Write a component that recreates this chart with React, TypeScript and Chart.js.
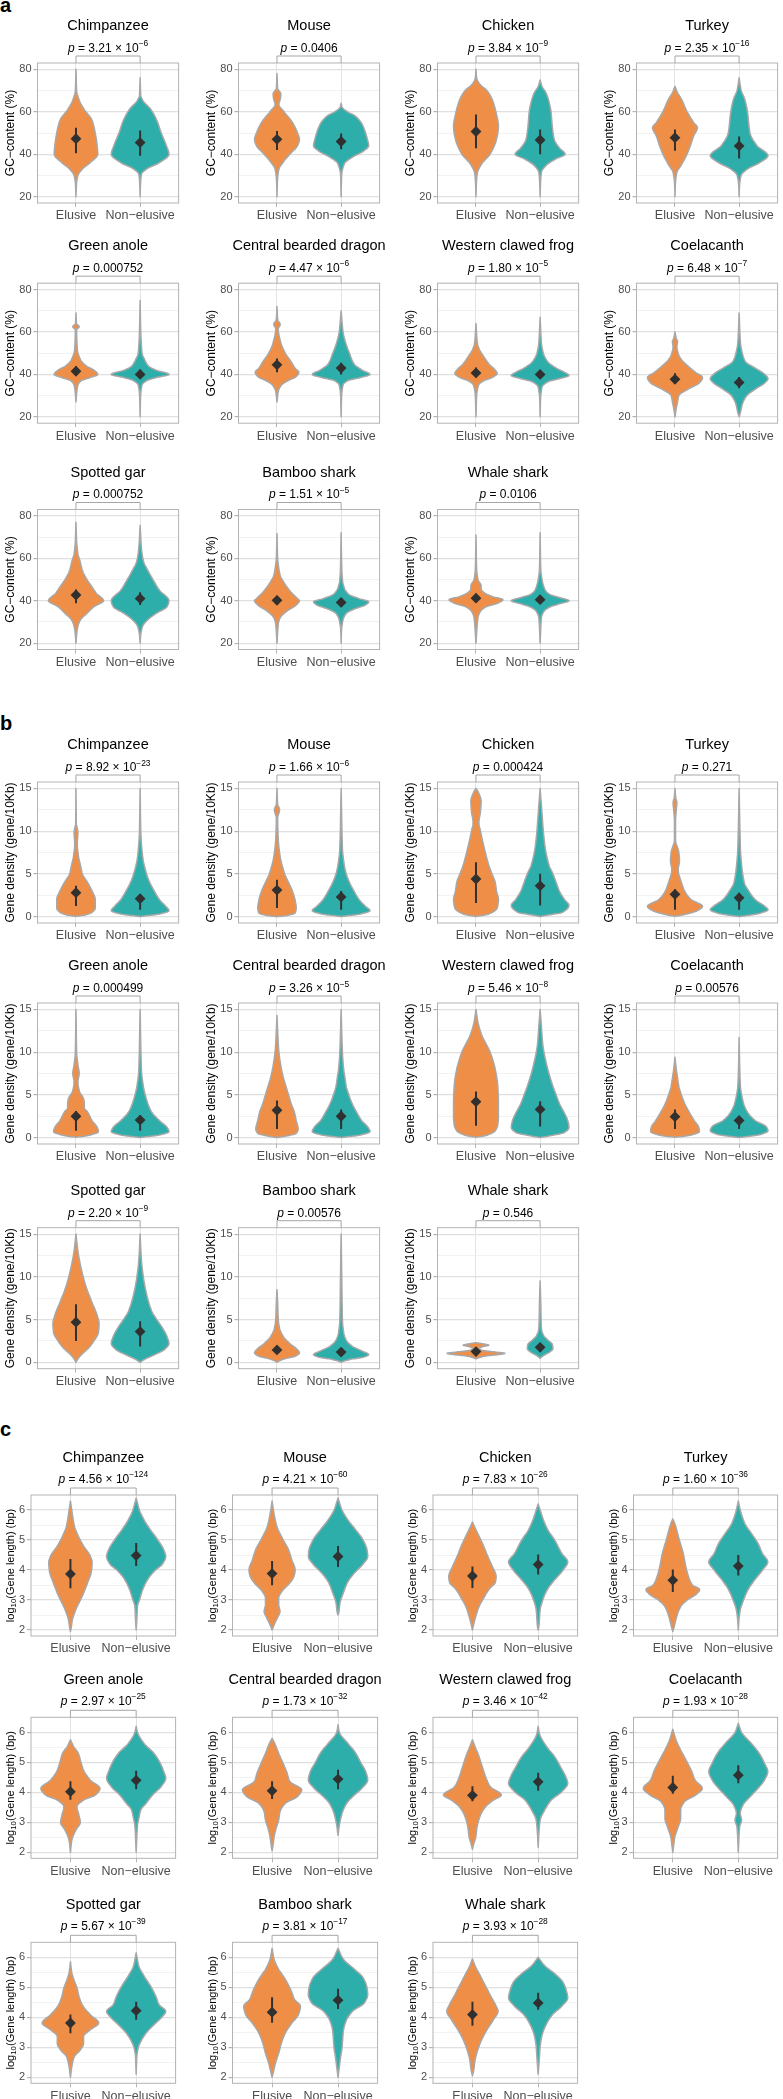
import React, { useEffect, useRef } from 'react';
import { Chart, registerables } from 'chart.js';

Chart.register(...registerables);

const FONT = "'Liberation Sans', Arial, Helvetica, sans-serif";
const ORANGE = '#EF8F47';
const TEAL = '#2EAEAB';
const OUTLINE = '#A8A8A8';
const DARK = '#303030';

const species = ['Chimpanzee', 'Mouse', 'Chicken', 'Turkey', 'Green anole', 'Central bearded dragon', 'Western clawed frog', 'Coelacanth', 'Spotted gar', 'Bamboo shark', 'Whale shark'];
const groups = ['Elusive', 'Non\u2212elusive'];

// ---------- Panel a: GC-content ----------
const gcTicks = [20, 30, 40, 50, 60, 70, 80];
const gcP = ['3.21e-6', '0.0406', '3.84e-9', '2.35e-16', '0.000752', '4.47e-6', '1.80e-5', '6.48e-7', '0.000752', '1.51e-5', '0.0106'];
const gcMean = [[47.3, 45.5], [47, 46], [50.7, 46.7], [47.8, 43.9], [41.5, 40], [44.5, 43], [40.7, 40], [37.7, 36.2], [42.7, 41], [40.2, 39.2], [41.2, 40.5]];
const gcLow = [[40.5, 39.3], [42, 42.3], [42.8, 40], [41.6, 38], [39.5, 38], [41, 40], [38.5, 38], [35.5, 33.5], [38.8, 38], [38.2, 37], [39.5, 39]];
const gcHigh = [[52.5, 51.2], [51, 49.8], [58.7, 51.7], [51.7, 48.3], [43.8, 42.3], [47.5, 45.5], [43.3, 42], [40.5, 38.8], [45.3, 44], [42.3, 41.3], [43, 42.5]];
const gcElusive = [
  [[80, 0], [70, 0.01], [65.5, 0.05], [61, 0.13], [56, 0.25], [50, 0.3], [44, 0.33], [40, 0.34], [36, 0.22], [33, 0.1], [30, 0.03], [26, 0.008], [20, 0]],
  [[78, 0], [71, 0.01], [68.5, 0.06], [66.5, 0.055], [63.5, 0.03], [60, 0.11], [55, 0.24], [50, 0.32], [47, 0.35], [44, 0.32], [40, 0.2], [36, 0.09], [33, 0.03], [28, 0.008], [20, 0]],
  [[80, 0], [76, 0.01], [73, 0.06], [70, 0.17], [66, 0.25], [60, 0.31], [53, 0.35], [47, 0.32], [40, 0.22], [35.5, 0.09], [31, 0.02], [26, 0.006], [20, 0]],
  [[72, 0], [69, 0.04], [66, 0.1], [60, 0.19], [55, 0.29], [52.5, 0.35], [48.5, 0.29], [44, 0.24], [39.5, 0.18], [34.5, 0.09], [31.5, 0.03], [26, 0.006], [20, 0]],
  [[69, 0], [64, 0.008], [62.5, 0.05], [61, 0.01], [52, 0.02], [47, 0.07], [44, 0.16], [42, 0.28], [40, 0.34], [38.5, 0.22], [37, 0.08], [35, 0.03], [31, 0.01], [27, 0]],
  [[72, 0], [66, 0.01], [63.5, 0.05], [61.5, 0.02], [55, 0.06], [50, 0.13], [46, 0.22], [43, 0.28], [41, 0.34], [39, 0.3], [37, 0.17], [35, 0.07], [32, 0.02], [27, 0]],
  [[64, 0], [55, 0.02], [52, 0.05], [48, 0.13], [45, 0.2], [42, 0.3], [40.5, 0.33], [38.5, 0.25], [37, 0.12], [35, 0.04], [30, 0.01], [20, 0]],
  [[60, 0], [57, 0.02], [55.5, 0.04], [53, 0.03], [50, 0.05], [47, 0.1], [44, 0.2], [41, 0.32], [38.5, 0.43], [36, 0.38], [33, 0.2], [30, 0.06], [27, 0.04], [24, 0.02], [20, 0]],
  [[77, 0], [68, 0.01], [62, 0.03], [59, 0.06], [54.3, 0.1], [50, 0.17], [46.5, 0.25], [43.4, 0.32], [40, 0.43], [37.2, 0.28], [34, 0.17], [31, 0.07], [28, 0.03], [24, 0.01], [20, 0]],
  [[71.7, 0], [60, 0.01], [55, 0.03], [52, 0.05], [48, 0.12], [44, 0.22], [41, 0.32], [40, 0.35], [38, 0.3], [35, 0.15], [32, 0.05], [29, 0.02], [20, 0]],
  [[71, 0], [55, 0.01], [50, 0.03], [47, 0.08], [45.5, 0.08], [44, 0.12], [42, 0.25], [40.5, 0.42], [39, 0.35], [37, 0.15], [35, 0.07], [32, 0.03], [20, 0]],
];
const gcNonElusive = [
  [[76, 0], [68, 0.01], [65.5, 0.04], [61, 0.17], [56, 0.26], [50, 0.33], [44, 0.41], [40, 0.45], [36, 0.3], [33, 0.1], [30.5, 0.02], [26, 0.006], [20, 0]],
  [[64, 0], [62, 0.02], [60, 0.1], [58, 0.22], [54, 0.33], [47, 0.41], [44, 0.43], [41.5, 0.35], [38.5, 0.17], [35.5, 0.05], [30, 0.008], [20, 0]],
  [[75, 0], [72, 0.03], [69, 0.09], [65.7, 0.13], [60, 0.17], [53, 0.19], [47, 0.22], [43, 0.3], [40, 0.39], [37.7, 0.24], [34.6, 0.09], [31.5, 0.02], [26, 0.006], [20, 0]],
  [[76, 0], [70.4, 0.03], [65.7, 0.09], [60, 0.13], [50, 0.17], [44, 0.28], [39.3, 0.45], [36, 0.32], [33, 0.13], [30, 0.03], [25, 0.006], [20, 0]],
  [[75, 0], [60, 0.01], [50, 0.03], [47, 0.07], [44, 0.13], [42, 0.25], [40, 0.45], [38.5, 0.25], [37, 0.1], [35, 0.03], [30, 0.008], [20, 0]],
  [[70, 0], [60, 0.03], [55, 0.07], [50, 0.13], [45, 0.2], [42, 0.33], [40, 0.45], [38.5, 0.3], [37, 0.1], [35, 0.03], [30, 0.008], [20, 0]],
  [[67, 0], [55, 0.02], [50, 0.05], [46, 0.12], [43, 0.25], [41, 0.38], [39.5, 0.45], [38, 0.3], [36.5, 0.12], [34, 0.03], [28, 0.006], [20, 0]],
  [[69, 0], [55, 0.02], [50, 0.05], [46, 0.1], [43, 0.25], [40, 0.4], [38, 0.45], [36, 0.4], [33, 0.25], [30, 0.12], [26, 0.05], [22, 0.02], [20, 0]],
  [[75.6, 0], [65, 0.02], [58.9, 0.05], [54.3, 0.12], [50, 0.2], [45, 0.3], [40, 0.45], [37.2, 0.42], [34, 0.25], [31, 0.12], [28, 0.04], [24, 0.01], [20, 0]],
  [[72, 0], [55, 0.01], [50, 0.02], [46, 0.05], [43, 0.12], [41, 0.28], [39.5, 0.43], [38, 0.38], [36, 0.2], [34, 0.08], [31, 0.03], [26, 0.006], [20, 0]],
  [[72, 0], [55, 0.01], [50, 0.03], [45, 0.08], [43, 0.15], [41.5, 0.3], [40, 0.45], [38.5, 0.3], [37, 0.15], [35, 0.06], [32, 0.02], [20, 0]],
];

// ---------- Panel b: gene density ----------
const denTicks = [0, 2.5, 5, 7.5, 10, 12.5, 15];
const denP = ['8.92e-23', '1.66e-6', '0.000424', '0.271', '0.000499', '3.26e-5', '5.46e-8', '0.00576', '2.20e-9', '0.00576', '0.546'];
const denMean = [[2.8, 2.1], [3.1, 2.3], [4.4, 3.6], [2.6, 2.2], [2.5, 2.05], [3.2, 2.5], [4.2, 3.3], [2.45, 2.0], [4.7, 3.6], [1.45, 1.2], [1.25, 1.75]];
const denLow = [[1.25, 0.8], [1.0, 0.8], [1.6, 1.3], [0.8, 0.8], [0.8, 0.8], [1.0, 1.0], [1.4, 1.3], [1.0, 1.0], [2.5, 1.85], [1.1, 0.9], [1.0, 1.2]];
const denHigh = [[3.6, 2.6], [4.3, 3.0], [6.35, 5.0], [3.2, 2.8], [3.1, 2.6], [4.35, 3.3], [5.4, 4.25], [3.3, 2.4], [6.8, 4.8], [1.9, 1.5], [1.6, 2.2]];
const denElusive = [
  [[15, 0], [11, 0.005], [9.8, 0.03], [8.5, 0.02], [7, 0.04], [6, 0.07], [5, 0.1], [4, 0.18], [3, 0.25], [2, 0.3], [1, 0.3], [0.5, 0.25], [0.2, 0.15], [0.03, 0]],
  [[15, 0], [13.2, 0.01], [12.5, 0.04], [11.5, 0.01], [9, 0.02], [7, 0.05], [5, 0.12], [4, 0.18], [3, 0.24], [2, 0.28], [1, 0.3], [0.4, 0.28], [0.12, 0.15], [0, 0]],
  [[15, 0], [14.5, 0.04], [13.5, 0.08], [12.3, 0.07], [11, 0.045], [10, 0.07], [8, 0.13], [6, 0.2], [5, 0.25], [4, 0.3], [3, 0.32], [2, 0.35], [1, 0.33], [0.3, 0.2], [0, 0]],
  [[15, 0], [14, 0.01], [13.3, 0.03], [12.5, 0.02], [11, 0.008], [9, 0.008], [7.5, 0.06], [6.5, 0.07], [5.5, 0.05], [4, 0.1], [3, 0.15], [2, 0.25], [1.2, 0.43], [0.7, 0.35], [0.3, 0.18], [0.03, 0]],
  [[15, 0], [10, 0.01], [8.5, 0.03], [7.5, 0.05], [6.5, 0.03], [5.5, 0.05], [4.5, 0.12], [4, 0.13], [3.5, 0.13], [3, 0.18], [2, 0.25], [1.2, 0.33], [0.7, 0.35], [0.3, 0.22], [0.03, 0]],
  [[14.3, 0], [11, 0.02], [10, 0.03], [8, 0.07], [7, 0.1], [6, 0.14], [5, 0.18], [4, 0.22], [3, 0.27], [2, 0.3], [1, 0.33], [0.5, 0.3], [0.15, 0.12], [0, 0]],
  [[15, 0], [13.5, 0.03], [12, 0.09], [10, 0.22], [8, 0.3], [6, 0.34], [4, 0.35], [2.5, 0.35], [1.5, 0.34], [0.8, 0.3], [0.3, 0.18], [0.03, 0]],
  [[9.4, 0], [8, 0.02], [7, 0.04], [6, 0.06], [5, 0.1], [4, 0.15], [3, 0.22], [2, 0.3], [1.2, 0.37], [0.7, 0.38], [0.3, 0.25], [0.03, 0]],
  [[15, 0], [13, 0.03], [11, 0.08], [9, 0.15], [7, 0.25], [5.5, 0.33], [4.5, 0.36], [3.5, 0.35], [2.5, 0.28], [1.7, 0.2], [1, 0.1], [0.4, 0.03], [0, 0]],
  [[8.5, 0], [7, 0.01], [5, 0.02], [4, 0.04], [3, 0.1], [2.2, 0.2], [1.6, 0.3], [1.1, 0.35], [0.7, 0.28], [0.4, 0.12], [0.1, 0.02], [0, 0]],
  [[2.3, 0], [2.15, 0.12], [2.0, 0.2], [1.85, 0.12], [1.65, 0.05], [1.4, 0.1], [1.2, 0.3], [1.05, 0.45], [0.9, 0.35], [0.7, 0.12], [0.5, 0.03], [0.4, 0]],
];
const denNonElusive = [
  [[15, 0], [10, 0.01], [7, 0.04], [5, 0.1], [4, 0.15], [3, 0.22], [2, 0.3], [1.2, 0.4], [0.7, 0.45], [0.3, 0.3], [0.1, 0.1], [0, 0]],
  [[15, 0], [8, 0.02], [6, 0.05], [5, 0.08], [4, 0.13], [3, 0.2], [2, 0.28], [1.2, 0.38], [0.7, 0.45], [0.3, 0.3], [0.1, 0.1], [0, 0]],
  [[15, 0], [12, 0.03], [10, 0.05], [8, 0.08], [6, 0.14], [5, 0.2], [4, 0.25], [3, 0.3], [2, 0.38], [1.3, 0.45], [0.5, 0.35], [0.15, 0.1], [0, 0]],
  [[15, 0], [8, 0.02], [6, 0.04], [4, 0.08], [3, 0.15], [2, 0.25], [1.2, 0.4], [0.8, 0.45], [0.4, 0.33], [0.1, 0.1], [0, 0]],
  [[15, 0], [8, 0.02], [6, 0.05], [5, 0.08], [4, 0.12], [3, 0.18], [2, 0.3], [1.2, 0.42], [0.7, 0.45], [0.3, 0.3], [0.1, 0.1], [0, 0]],
  [[15, 0], [10, 0.02], [8, 0.04], [7, 0.06], [6, 0.08], [5, 0.12], [4, 0.17], [3, 0.24], [2, 0.32], [1.2, 0.42], [0.7, 0.45], [0.3, 0.3], [0.1, 0.1], [0, 0]],
  [[15, 0], [13, 0.02], [11, 0.04], [10, 0.06], [8, 0.12], [6, 0.2], [5, 0.25], [4, 0.3], [3, 0.37], [2, 0.43], [1.2, 0.45], [0.6, 0.38], [0.2, 0.15], [0, 0]],
  [[11.7, 0], [8, 0.01], [6, 0.02], [5, 0.04], [4, 0.07], [3, 0.13], [2, 0.25], [1.3, 0.42], [0.8, 0.45], [0.4, 0.35], [0.1, 0.1], [0, 0]],
  [[15, 0], [12, 0.02], [10, 0.05], [8, 0.1], [6, 0.18], [5, 0.26], [4, 0.35], [3, 0.42], [2.2, 0.45], [1.5, 0.38], [0.8, 0.2], [0.3, 0.06], [0, 0]],
  [[15, 0], [10, 0.01], [5, 0.02], [3.5, 0.04], [2.6, 0.08], [1.9, 0.17], [1.3, 0.33], [0.9, 0.43], [0.6, 0.35], [0.35, 0.15], [0.1, 0.03], [0, 0]],
  [[9.5, 0], [7, 0.01], [5, 0.015], [4, 0.02], [3.2, 0.05], [2.6, 0.12], [2.1, 0.19], [1.6, 0.2], [1.2, 0.15], [0.9, 0.08], [0.6, 0.02], [0.45, 0]],
];

// ---------- Panel c: log10 gene length ----------
const lenTicks = [2, 2.5, 3, 3.5, 4, 4.5, 5, 5.5, 6];
const lenP = ['4.56e-124', '4.21e-60', '7.83e-26', '1.60e-36', '2.97e-25', '1.73e-32', '3.46e-42', '1.93e-28', '5.67e-39', '3.81e-17', '3.93e-28'];
const lenMean = [[3.87, 4.48], [3.88, 4.45], [3.8, 4.18], [3.66, 4.13], [4.02, 4.4], [4.05, 4.44], [3.9, 4.35], [4.16, 4.57], [3.81, 4.22], [4.17, 4.57], [4.09, 4.48]];
const lenLow = [[3.39, 4.13], [3.49, 4.1], [3.4, 3.85], [3.27, 3.82], [3.75, 4.1], [3.78, 4.1], [3.7, 4.05], [3.95, 4.3], [3.47, 3.92], [3.82, 4.28], [3.72, 4.25]];
const lenHigh = [[4.37, 4.9], [4.3, 4.8], [4.12, 4.52], [4.02, 4.5], [4.37, 4.72], [4.37, 4.75], [4.2, 4.65], [4.55, 4.9], [4.09, 4.52], [4.67, 4.95], [4.52, 4.82]];
const lenElusive = [
  [[6.3, 0], [6, 0.02], [5.47, 0.06], [5.13, 0.12], [4.8, 0.2], [4.47, 0.3], [4.25, 0.33], [3.97, 0.32], [3.57, 0.26], [3.23, 0.2], [2.95, 0.14], [2.67, 0.08], [2.34, 0.03], [2.05, 0.01], [1.95, 0]],
  [[6.3, 0], [6, 0.02], [5.47, 0.07], [5, 0.17], [4.67, 0.25], [4.33, 0.3], [4.0, 0.35], [3.78, 0.33], [3.57, 0.27], [3.29, 0.15], [3.06, 0.1], [2.85, 0.1], [2.62, 0.12], [2.4, 0.08], [2.17, 0.03], [2.0, 0]],
  [[5.6, 0], [5.45, 0.03], [5.13, 0.1], [4.8, 0.17], [4.47, 0.23], [4.13, 0.3], [3.78, 0.36], [3.6, 0.35], [3.35, 0.25], [3.06, 0.17], [2.78, 0.1], [2.45, 0.05], [2.1, 0.01], [2.0, 0]],
  [[5.7, 0], [5.55, 0.03], [5.0, 0.1], [4.55, 0.16], [4.1, 0.2], [3.78, 0.24], [3.5, 0.3], [3.35, 0.41], [3.18, 0.35], [3.0, 0.22], [2.78, 0.12], [2.45, 0.06], [2.1, 0.02], [1.95, 0]],
  [[5.75, 0], [5.52, 0.05], [5.3, 0.12], [5.0, 0.16], [4.74, 0.2], [4.41, 0.3], [4.13, 0.45], [3.91, 0.38], [3.74, 0.2], [3.52, 0.1], [3.23, 0.13], [3.0, 0.15], [2.73, 0.08], [2.39, 0.02], [2.0, 0]],
  [[5.8, 0], [5.63, 0.04], [5.3, 0.1], [5.0, 0.16], [4.69, 0.22], [4.36, 0.27], [4.08, 0.45], [3.85, 0.38], [3.63, 0.2], [3.35, 0.12], [3.07, 0.1], [2.79, 0.06], [2.5, 0.03], [2.17, 0.01], [2.05, 0]],
  [[5.75, 0], [5.52, 0.04], [5.19, 0.1], [4.85, 0.15], [4.52, 0.2], [4.19, 0.27], [3.91, 0.44], [3.74, 0.32], [3.52, 0.2], [3.23, 0.12], [2.84, 0.07], [2.5, 0.05], [2.28, 0.02], [2.1, 0]],
  [[6.1, 0], [5.74, 0.05], [5.41, 0.12], [5.08, 0.2], [4.74, 0.28], [4.41, 0.34], [4.13, 0.45], [3.91, 0.35], [3.69, 0.18], [3.41, 0.12], [3.13, 0.12], [2.84, 0.08], [2.5, 0.03], [2.17, 0.01], [2.0, 0]],
  [[5.85, 0], [5.5, 0.02], [5.27, 0.05], [4.98, 0.1], [4.7, 0.13], [4.42, 0.18], [4.09, 0.3], [3.81, 0.43], [3.58, 0.3], [3.36, 0.2], [3.13, 0.2], [2.91, 0.15], [2.69, 0.06], [2.35, 0.02], [2.0, 0]],
  [[6.3, 0], [5.94, 0.03], [5.6, 0.1], [5.27, 0.2], [4.93, 0.28], [4.6, 0.34], [4.37, 0.43], [4.09, 0.4], [3.81, 0.3], [3.47, 0.2], [3.13, 0.14], [2.8, 0.1], [2.46, 0.05], [2.18, 0.02], [2.0, 0]],
  [[5.95, 0], [5.72, 0.04], [5.38, 0.12], [5.04, 0.2], [4.7, 0.28], [4.42, 0.35], [4.2, 0.39], [3.92, 0.32], [3.58, 0.22], [3.25, 0.14], [2.91, 0.08], [2.57, 0.04], [2.24, 0.02], [2.05, 0]],
];
const lenNonElusive = [
  [[6.4, 0], [6, 0.05], [5.67, 0.12], [5.33, 0.22], [5, 0.33], [4.67, 0.42], [4.45, 0.45], [4.2, 0.4], [3.97, 0.28], [3.7, 0.18], [3.35, 0.1], [3.0, 0.05], [2.8, 0.02], [2.34, 0.01], [2.0, 0]],
  [[6.4, 0], [6, 0.06], [5.67, 0.15], [5.33, 0.27], [5, 0.38], [4.67, 0.44], [4.45, 0.45], [4.2, 0.38], [3.88, 0.24], [3.57, 0.14], [3.23, 0.08], [2.9, 0.03], [2.56, 0.01], [2.5, 0]],
  [[6.2, 0], [6, 0.03], [5.67, 0.08], [5.33, 0.15], [5, 0.25], [4.55, 0.36], [4.27, 0.45], [4.0, 0.38], [3.67, 0.25], [3.35, 0.14], [3.0, 0.07], [2.67, 0.03], [2.1, 0.01], [2.0, 0]],
  [[6.3, 0], [6, 0.03], [5.55, 0.1], [5.22, 0.2], [4.89, 0.3], [4.55, 0.37], [4.27, 0.45], [4.0, 0.37], [3.67, 0.25], [3.35, 0.15], [3.0, 0.08], [2.67, 0.03], [2.34, 0.01], [2.0, 0]],
  [[6.2, 0], [6, 0.02], [5.63, 0.12], [5.3, 0.27], [5, 0.36], [4.69, 0.42], [4.47, 0.45], [4.19, 0.38], [3.91, 0.25], [3.63, 0.15], [3.41, 0.07], [3.12, 0.04], [2.9, 0.02], [2.0, 0]],
  [[6.25, 0], [6, 0.02], [5.63, 0.15], [5.3, 0.27], [4.97, 0.35], [4.69, 0.42], [4.41, 0.45], [4.13, 0.36], [3.85, 0.22], [3.63, 0.13], [3.29, 0.06], [2.9, 0.02], [2.56, 0]],
  [[6.2, 0], [5.95, 0.02], [5.52, 0.13], [5.19, 0.25], [4.85, 0.34], [4.52, 0.42], [4.3, 0.45], [4.02, 0.36], [3.74, 0.2], [3.41, 0.1], [3.07, 0.03], [2.6, 0.01], [2.17, 0]],
  [[6.3, 0], [6, 0.05], [5.63, 0.2], [5.3, 0.32], [4.97, 0.4], [4.69, 0.45], [4.41, 0.4], [4.13, 0.3], [3.85, 0.18], [3.57, 0.07], [3.3, 0.03], [3.07, 0.05], [2.84, 0.02], [2.0, 0]],
  [[6.15, 0], [5.72, 0.04], [5.38, 0.12], [5.04, 0.22], [4.7, 0.3], [4.42, 0.35], [4.2, 0.45], [3.98, 0.38], [3.75, 0.27], [3.47, 0.15], [3.19, 0.07], [2.97, 0.03], [2.69, 0.01], [2.1, 0]],
  [[6.3, 0], [5.94, 0.08], [5.6, 0.25], [5.32, 0.38], [4.98, 0.44], [4.76, 0.45], [4.48, 0.4], [4.2, 0.22], [3.87, 0.12], [3.53, 0.08], [3.25, 0.07], [2.97, 0.06], [2.69, 0.04], [2.35, 0.02], [2.0, 0]],
  [[6.0, 0], [5.72, 0.1], [5.44, 0.26], [5.16, 0.38], [4.88, 0.43], [4.65, 0.45], [4.37, 0.36], [4.09, 0.22], [3.75, 0.12], [3.41, 0.06], [3.02, 0.03], [2.69, 0.02], [2.24, 0.005], [2.1, 0]],
];

// ---------- layout of the three panels ----------
type Seg = { t: string; sub?: boolean };
type Panel = {
  key: string; letter: string; letterTop: number; yTitle: Seg[]; yTitleSize: number;
  yMin: number; yMax: number; ticks: number[]; majorStep: number;
  pVals: string[]; mean: number[][]; low: number[][]; high: number[][];
  elusive: number[][][]; non: number[][][];
  rowTops: number[]; plotH: number; boxLefts: number[]; boxW: number; axisW: number; titleGap: number; pOffset: number;
};

const panels: Panel[] = [
  {
    key: 'a', letter: 'a', letterTop: -5, yTitle: [{ t: 'GC\u2212content (%)' }], yTitleSize: 12,
    yMin: 17, yMax: 83, ticks: gcTicks, majorStep: 20,
    pVals: gcP, mean: gcMean, low: gcLow, high: gcHigh, elusive: gcElusive, non: gcNonElusive,
    rowTops: [63, 283.2, 509.5], plotH: 140, boxLefts: [37.5, 238.5, 437.5, 636.5], boxW: 145, axisW: 37.5, titleGap: 27, pOffset: 14.5,
  },
  {
    key: 'b', letter: 'b', letterTop: 713, yTitle: [{ t: 'Gene density (gene/10Kb)' }], yTitleSize: 12,
    yMin: -0.75, yMax: 15.75, ticks: denTicks, majorStep: 5,
    pVals: denP, mean: denMean, low: denLow, high: denHigh, elusive: denElusive, non: denNonElusive,
    rowTops: [782, 1003, 1227.7], plotH: 141, boxLefts: [37.5, 238.5, 437.5, 636.5], boxW: 145, axisW: 37.5, titleGap: 27, pOffset: 14,
  },
  {
    key: 'c', letter: 'c', letterTop: 1419, yTitle: [{ t: 'log' }, { t: '10', sub: true }, { t: '(Gene length) (bp)' }], yTitleSize: 11,
    yMin: 1.8, yMax: 6.5, ticks: lenTicks, majorStep: 1,
    pVals: lenP, mean: lenMean, low: lenLow, high: lenHigh, elusive: lenElusive, non: lenNonElusive,
    rowTops: [1495, 1717.3, 1942.3], plotH: 141, boxLefts: [31, 232.5, 433, 633.5], boxW: 149, axisW: 31, titleGap: 20, pOffset: 15.5,
  },
];

// monotone cubic sampling of a violin half-width profile
function sampleProfile(knots: number[][]): number[][] {
  const p = [...knots].sort((a, b) => a[0] - b[0]);
  const n = p.length;
  const xs = p.map((k) => k[0]);
  const ys = p.map((k) => k[1]);
  const d: number[] = [];
  for (let i = 0; i < n - 1; i++) d.push((ys[i + 1] - ys[i]) / (xs[i + 1] - xs[i]));
  const m: number[] = new Array(n).fill(0);
  m[0] = d[0];
  m[n - 1] = d[n - 2];
  for (let i = 1; i < n - 1; i++) m[i] = d[i - 1] * d[i] <= 0 ? 0 : 2 / (1 / d[i - 1] + 1 / d[i]);
  const out: number[][] = [];
  for (let i = 0; i < n - 1; i++) {
    const h = xs[i + 1] - xs[i];
    const steps = 10;
    for (let s = 0; s < steps; s++) {
      const t = s / steps;
      const t2 = t * t, t3 = t2 * t;
      const v = (2 * t3 - 3 * t2 + 1) * ys[i] + (t3 - 2 * t2 + t) * h * m[i] + (-2 * t3 + 3 * t2) * ys[i + 1] + (t3 - t2) * h * m[i + 1];
      out.push([xs[i] + t * h, Math.max(0, v)]);
    }
  }
  out.push([xs[n - 1], ys[n - 1]]);
  return out;
}

function isMajor(v: number, step: number) {
  const r = v / step;
  return Math.abs(r - Math.round(r)) < 1e-6;
}

function drawP(ctx: CanvasRenderingContext2D, cx: number, cy: number, pStr: string) {
  const fs = 12;
  const parts: [string, string, number][] = [];
  parts.push(['p', `italic ${fs}px ${FONT}`, 0]);
  if (pStr.includes('e')) {
    const [mant, ex] = pStr.split('e');
    parts.push([' = ' + mant + ' \u00d7 10', `${fs}px ${FONT}`, 0]);
    parts.push(['\u2212' + ex.replace('-', ''), `${fs * 0.7}px ${FONT}`, -fs * 0.4]);
  } else {
    parts.push([' = ' + pStr, `${fs}px ${FONT}`, 0]);
  }
  let total = 0;
  const widths = parts.map(([t, f]) => { ctx.font = f; const w = ctx.measureText(t).width; total += w; return w; });
  let x = cx - total / 2;
  ctx.textAlign = 'left';
  ctx.textBaseline = 'middle';
  ctx.fillStyle = '#000';
  parts.forEach(([t, f, dy], i) => { ctx.font = f; ctx.fillText(t, x, cy + dy); x += widths[i]; });
}

function drawYTitle(ctx: CanvasRenderingContext2D, x: number, y: number, segs: Seg[], size: number) {
  ctx.save();
  ctx.translate(x, y);
  ctx.rotate(-Math.PI / 2);
  ctx.textAlign = 'left';
  ctx.textBaseline = 'middle';
  ctx.fillStyle = '#000';
  let total = 0;
  const widths = segs.map((s) => { ctx.font = `${s.sub ? size * 0.72 : size}px ${FONT}`; const w = ctx.measureText(s.t).width; total += w; return w; });
  let px = -total / 2;
  segs.forEach((s, i) => { ctx.font = `${s.sub ? size * 0.72 : size}px ${FONT}`; ctx.fillText(s.t, px, s.sub ? size * 0.3 : 0); px += widths[i]; });
  ctx.restore();
}

function Subplot({ panel, idx }: { panel: Panel; idx: number }) {
  const ref = useRef<HTMLCanvasElement | null>(null);
  const row = Math.floor(idx / 4);
  const col = idx % 4;
  const boxLeft = panel.boxLefts[col];
  const plotTop = panel.rowTops[row];
  const canvasLeft = Math.floor(boxLeft - panel.axisW);
  const axisW = boxLeft - canvasLeft;
  const canvasTop = Math.floor(plotTop - 48);
  const padTop = plotTop - canvasTop;
  const XH = 26;
  const W = Math.min(783 - canvasLeft, Math.ceil(axisW + panel.boxW + 1));
  const padRight = Math.max(0, W - axisW - panel.boxW);
  const H = Math.ceil(padTop + panel.plotH + XH + 2);
  const padBottom = H - padTop - panel.plotH - XH;

  useEffect(() => {
    const canvas = ref.current;
    if (!canvas) return;
    const shapes = [panel.elusive[idx], panel.non[idx]];
    const mean = panel.mean[idx], low = panel.low[idx], high = panel.high[idx];
    const step = panel.majorStep;

    const violinPlugin = {
      id: 'violin',
      beforeDatasetsDraw(chart: any) {
        const { ctx, chartArea: a, scales } = chart;
        const xs = scales.x, ys = scales.y;
        ctx.save();
        ctx.beginPath();
        ctx.rect(a.left, a.top, a.right - a.left, a.bottom - a.top);
        ctx.clip();
        shapes.forEach((prof: number[][], gi: number) => {
          const cx = gi + 1;
          const pts = sampleProfile(prof);
          ctx.beginPath();
          pts.forEach(([v, w], k) => {
            const px = xs.getPixelForValue(cx + w), py = ys.getPixelForValue(v);
            if (k === 0) ctx.moveTo(px, py); else ctx.lineTo(px, py);
          });
          for (let k = pts.length - 1; k >= 0; k--) {
            const [v, w] = pts[k];
            ctx.lineTo(xs.getPixelForValue(cx - w), ys.getPixelForValue(v));
          }
          ctx.closePath();
          ctx.fillStyle = gi === 0 ? ORANGE : TEAL;
          ctx.fill();
          ctx.strokeStyle = OUTLINE;
          ctx.lineWidth = 1.5;
          ctx.lineJoin = 'round';
          ctx.stroke();
        });
        ctx.restore();
      },
    };

    const decorPlugin = {
      id: 'decor',
      afterDatasetsDraw(chart: any) {
        const { ctx, chartArea: a, scales } = chart;
        const xs = scales.x;
        ctx.save();
        ctx.strokeStyle = '#b3b3b3';
        ctx.lineWidth = 1;
        ctx.strokeRect(a.left, a.top, a.right - a.left, a.bottom - a.top);
        const x1 = xs.getPixelForValue(1), x2 = xs.getPixelForValue(2);
        const by = a.top - 7;
        ctx.strokeStyle = '#a6a6a6';
        ctx.beginPath();
        ctx.moveTo(x1, a.top); ctx.lineTo(x1, by); ctx.lineTo(x2, by); ctx.lineTo(x2, a.top);
        ctx.stroke();
        ctx.fillStyle = '#000';
        ctx.font = `14.5px ${FONT}`;
        ctx.textAlign = 'center';
        ctx.textBaseline = 'middle';
        ctx.fillText(species[idx], (a.left + a.right) / 2, a.top - 37);
        drawP(ctx, xs.getPixelForValue(1.5), a.top - panel.pOffset, panel.pVals[idx]);
        drawYTitle(ctx, a.left - panel.titleGap, (a.top + a.bottom) / 2, panel.yTitle, panel.yTitleSize);
        ctx.restore();
      },
    };

    const chart = new Chart(canvas, {
      type: 'scatter',
      data: {
        datasets: [
          { data: [{ x: 1, y: mean[0] }, { x: 2, y: mean[1] }], pointStyle: 'rectRot', pointRadius: 5.4, backgroundColor: DARK, borderColor: DARK, borderWidth: 0, showLine: false },
          { data: [{ x: 1, y: low[0] }, { x: 1, y: high[0] }], showLine: true, pointRadius: 0, borderColor: DARK, borderWidth: 2 },
          { data: [{ x: 2, y: low[1] }, { x: 2, y: high[1] }], showLine: true, pointRadius: 0, borderColor: DARK, borderWidth: 2 },
        ],
      },
      options: {
        responsive: false,
        animation: false,
        devicePixelRatio: 1,
        layout: { padding: { top: padTop, left: 0, right: padRight, bottom: padBottom } },
        plugins: { legend: { display: false }, tooltip: { enabled: false }, title: { display: false } },
        scales: {
          x: {
            type: 'linear', min: 0.4, max: 2.6,
            afterBuildTicks: (s: any) => { s.ticks = [{ value: 1 }, { value: 2 }]; },
            afterFit: (s: any) => { s.height = XH; },
            ticks: { callback: (v: any) => (Math.round(v) === 1 ? groups[0] : groups[1]), font: { family: FONT, size: 12.5 }, color: '#4d4d4d', padding: 1.5, maxRotation: 0, autoSkip: false },
            grid: { color: '#e3e3e3', lineWidth: 1, tickLength: 4, tickColor: '#b3b3b3' },
            border: { display: false },
          },
          y: {
            type: 'linear', min: panel.yMin, max: panel.yMax,
            afterBuildTicks: (s: any) => { s.ticks = panel.ticks.map((v) => ({ value: v })); },
            afterFit: (s: any) => { s.width = axisW; },
            ticks: { callback: (v: any) => (isMajor(v, step) ? String(v) : ''), font: { family: FONT, size: 11 }, color: '#4d4d4d', padding: 2, autoSkip: false },
            grid: {
              color: (c: any) => (isMajor(c.tick.value, step) ? '#e0e0e0' : '#efefef'),
              lineWidth: (c: any) => (isMajor(c.tick.value, step) ? 1.2 : 0.8),
              tickLength: 4,
              tickColor: (c: any) => (isMajor(c.tick.value, step) ? '#b3b3b3' : 'rgba(0,0,0,0)'),
            },
            border: { display: false },
          },
        },
      } as any,
      plugins: [violinPlugin, decorPlugin],
    });
    return () => chart.destroy();
  }, []);

  return (
    <canvas
      ref={ref}
      width={W}
      height={H}
      style={{ position: 'absolute', left: canvasLeft, top: canvasTop, width: W, height: H }}
    />
  );
}

export default function App() {
  return (
    <div style={{ position: 'absolute', left: 0, top: 0, width: 783, height: 2099, background: '#fff', overflow: 'hidden' }}>
      {panels.map((p) => (
        <div
          key={'L' + p.key}
          style={{ position: 'absolute', left: 0, top: p.letterTop, fontFamily: FONT, fontWeight: 'bold', fontSize: 20, lineHeight: '20px', color: '#000' }}
        >
          {p.letter}
        </div>
      ))}
      {panels.map((p) => species.map((s, i) => <Subplot key={p.key + i} panel={p} idx={i} />))}
    </div>
  );
}
